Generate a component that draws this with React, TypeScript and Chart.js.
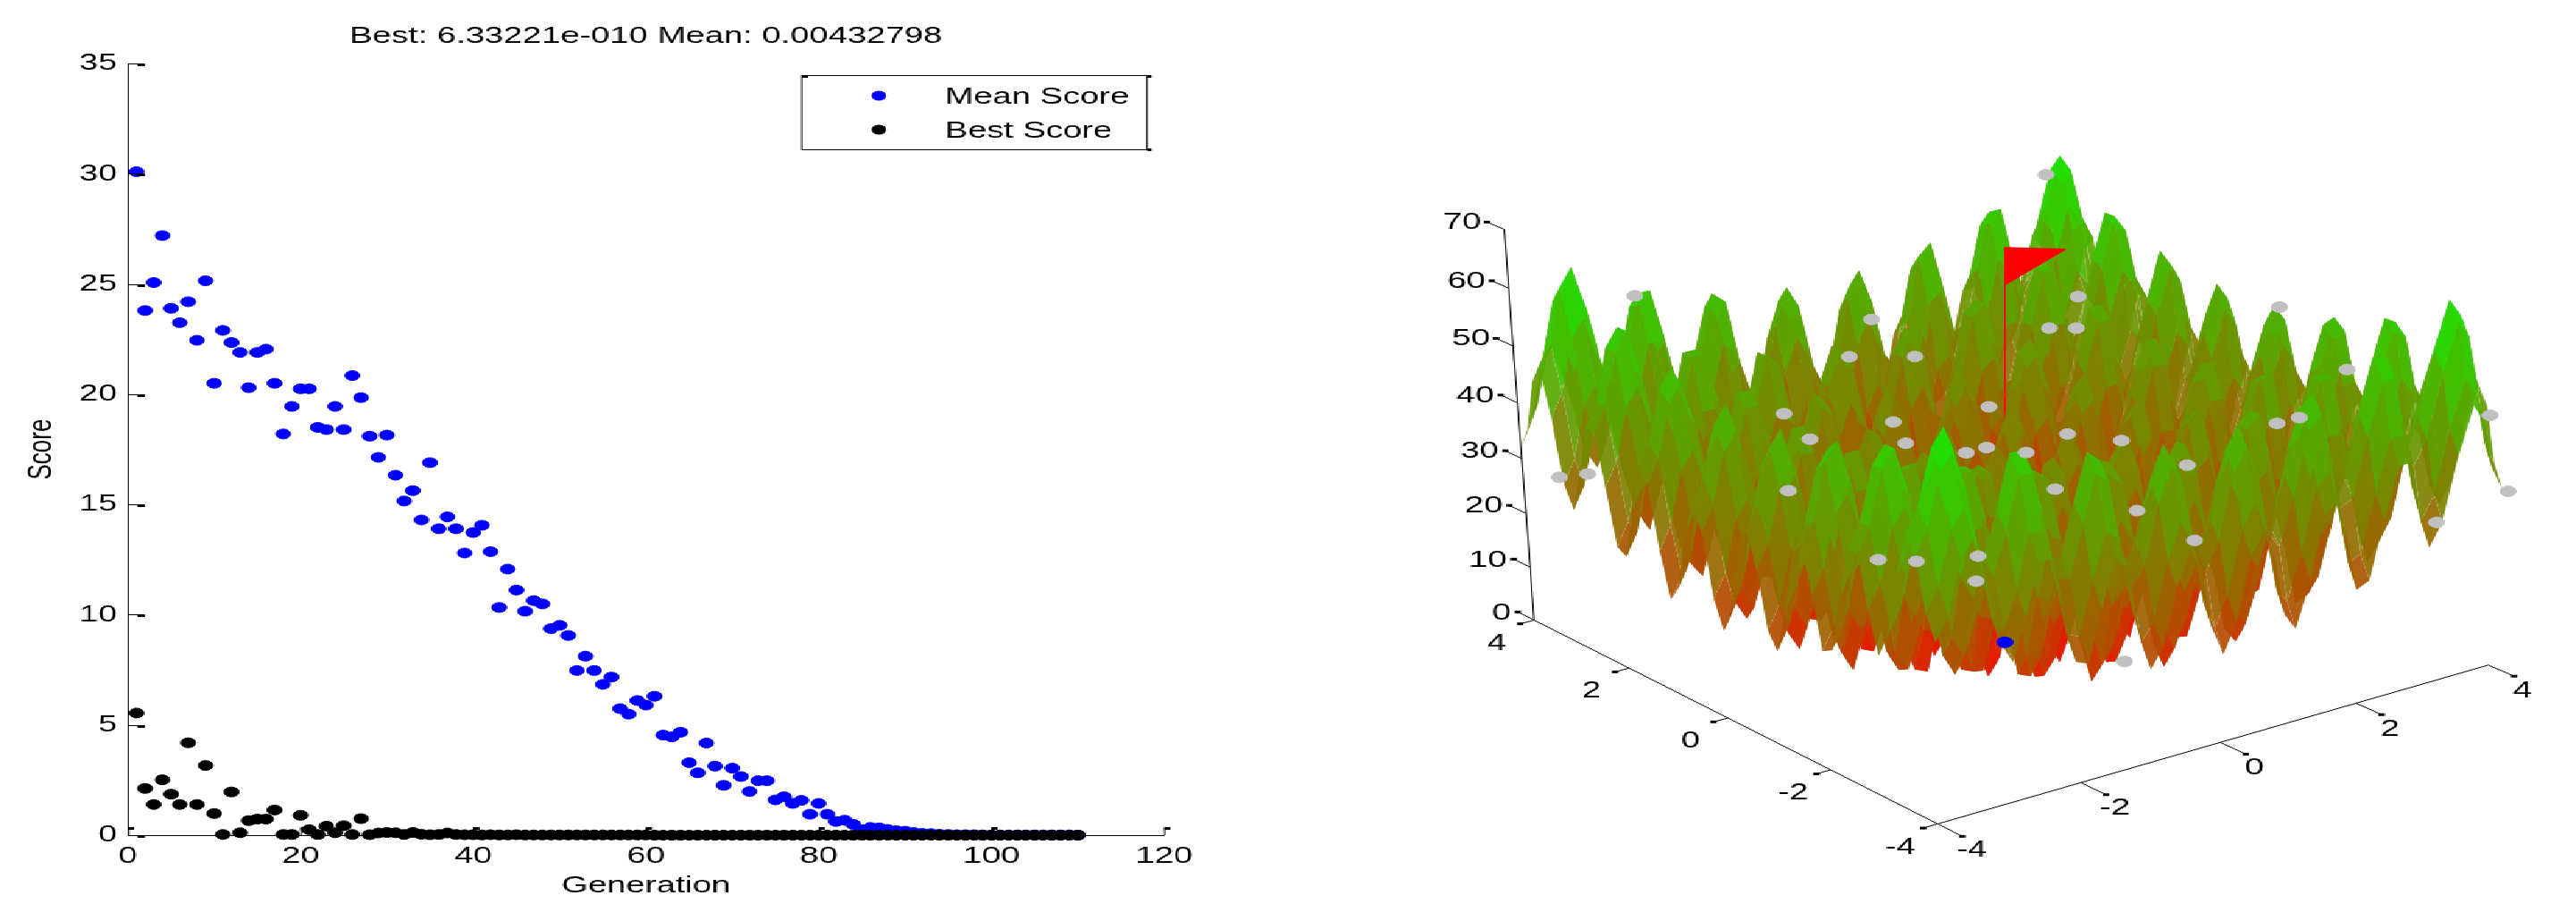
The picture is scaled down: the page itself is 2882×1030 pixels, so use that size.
import { useEffect, useRef } from 'react'
import { Chart, registerables, type ChartConfiguration, type Plugin } from 'chart.js'

Chart.register(...registerables)

// ---- left panel values (generation = index + 1)
const meanScore = [
  30.1, 23.8, 25.07, 27.2, 23.9, 23.25, 24.2, 22.45, 25.15, 20.5,
  22.9, 22.35, 21.9, 20.3, 21.9, 22.05, 20.5, 18.2, 19.45, 20.25,
  20.25, 18.5, 18.4, 19.45, 18.4, 20.85, 19.85, 18.1, 17.14, 18.15,
  16.33, 15.16, 15.63, 14.3, 16.9, 13.9, 14.44, 13.9, 12.8, 13.73,
  14.06, 12.86, 10.33, 12.07, 11.12, 10.16, 10.64, 10.49, 9.37, 9.52,
  9.06, 7.47, 8.12, 7.47, 6.84, 7.17, 5.74, 5.49, 6.11, 5.9,
  6.3, 4.54, 4.46, 4.67, 3.29, 2.83, 4.18, 3.13, 2.26, 3.04,
  2.66, 1.98, 2.47, 2.47, 1.6, 1.74, 1.44, 1.58, 0.95, 1.44,
  0.95, 0.62, 0.68, 0.49, 0.25, 0.35, 0.33, 0.26, 0.2, 0.18,
  0.12, 0.08, 0.07, 0.04, 0.03, 0.02, 0.02, 0.02, 0.01, 0.01,
  0.01, 0.01, 0.01, 0.01, 0.01, 0.01, 0.01, 0.01, 0.01, 0.0043,
]
const bestScore = [
  5.54, 2.12, 1.39, 2.51, 1.86, 1.39, 4.19, 1.39, 3.16, 0.98,
  0.03, 1.96, 0.11, 0.66, 0.73, 0.73, 1.14, 0.03, 0.03, 0.9,
  0.25, 0.03, 0.41, 0.11, 0.43, 0.03, 0.75, 0.02, 0.1, 0.12,
  0.11, 0.03, 0.12, 0.04, 0.02, 0.03, 0.1, 0.03, 0.02, 0.02,
  0.01, 0.02, 0.01, 0.01, 0.02, 0.01, 0.01, 0.01, 0.01, 0.01,
  0.01, 0.01, 0.01, 0.01, 0.01, 0.01, 0.01, 0.01, 0.01, 0.01,
  0, 0, 0, 0, 0, 0, 0, 0, 0, 0,
  0, 0, 0, 0, 0, 0, 0, 0, 0, 0,
  0, 0, 0, 0, 0, 0, 0, 0, 0, 0,
  0, 0, 0, 0, 0, 0, 0, 0, 0, 0,
  0, 0, 0, 0, 0, 0, 0, 0, 0, 0,
]
const legendLabels = ['Mean Score', 'Best Score']
const titleText = 'Best: 6.33221e-010 Mean: 0.00432798'

// ---- right panel values: surface heights on a 47 x 47 grid
const gridAxis = [
  -4, -3.83, -3.65, -3.48, -3.3, -3.13, -2.96, -2.78, -2.61, -2.43, -2.26, -2.09, -1.91, -1.74, -1.57, -1.39, -1.22, -1.04, -0.87, -0.7, -0.52, -0.35, -0.17, 0,
  0.17, 0.35, 0.52, 0.7, 0.87, 1.04, 1.22, 1.39, 1.57, 1.74, 1.91, 2.09, 2.26, 2.43, 2.61, 2.78, 2.96, 3.13, 3.3, 3.48, 3.65, 3.83, 4,
]
const r16 = [32,36,45,48,40,29,25,32,41,41,32,22,21,30,38,36,25,17,20,30,36,32,21,16,21,32,36,30,20,17,25,36,38,30,21,22,32,41,41,32,25,29,40,48,45,36,32]
const r20 = [36,40,49,52,44,33,29,36,45,45,36,26,25,34,42,40,29,21,24,34,40,36,25,20,25,36,40,34,24,21,29,40,42,34,25,26,36,45,45,36,29,33,44,52,49,40,36]
const r29 = [45,49,58,61,53,42,38,45,54,54,45,35,34,43,51,49,38,30,33,43,49,45,34,29,34,45,49,43,33,30,38,49,51,43,34,35,45,54,54,45,38,42,53,61,58,49,45]
const r32 = [48,52,61,64,56,45,41,48,57,57,48,38,37,46,54,52,41,33,36,46,52,48,37,32,37,48,52,46,36,33,41,52,54,46,37,38,48,57,57,48,41,45,56,64,61,52,48]
const r24 = [40,44,53,56,48,37,33,40,49,49,40,30,29,38,46,44,33,25,28,38,44,40,29,24,29,40,44,38,28,25,33,44,46,38,29,30,40,49,49,40,33,37,48,56,53,44,40]
const r13 = [29,33,42,45,37,26,22,29,38,38,29,19,18,27,35,33,22,14,17,27,33,29,18,13,18,29,33,27,17,14,22,33,35,27,18,19,29,38,38,29,22,26,37,45,42,33,29]
const r9 = [25,29,38,41,33,22,18,25,34,34,25,15,14,23,31,29,18,10,13,23,29,25,14,9,14,25,29,23,13,10,18,29,31,23,14,15,25,34,34,25,18,22,33,41,38,29,25]
const r25 = [41,45,54,57,49,38,34,41,50,50,41,31,30,39,47,45,34,26,29,39,45,41,30,25,30,41,45,39,29,26,34,45,47,39,30,31,41,50,50,41,34,38,49,57,54,45,41]
const r6 = [22,26,35,38,30,19,15,22,31,31,22,12,11,20,28,26,15,7,10,20,26,22,11,6,11,22,26,20,10,7,15,26,28,20,11,12,22,31,31,22,15,19,30,38,35,26,22]
const r5 = [21,25,34,37,29,18,14,21,30,30,21,11,10,19,27,25,14,6,9,19,25,21,10,5,10,21,25,19,9,6,14,25,27,19,10,11,21,30,30,21,14,18,29,37,34,25,21]
const r14 = [30,34,43,46,38,27,23,30,39,39,30,20,19,28,36,34,23,15,18,28,34,30,19,14,19,30,34,28,18,15,23,34,36,28,19,20,30,39,39,30,23,27,38,46,43,34,30]
const r22 = [38,42,51,54,46,35,31,38,47,47,38,28,27,36,44,42,31,23,26,36,42,38,27,22,27,38,42,36,26,23,31,42,44,36,27,28,38,47,47,38,31,35,46,54,51,42,38]
const r1 = [17,21,30,33,25,14,10,17,26,26,17,7,6,15,23,21,10,2,5,15,21,17,6,1,6,17,21,15,5,2,10,21,23,15,6,7,17,26,26,17,10,14,25,33,30,21,17]
const r4 = [20,24,33,36,28,17,13,20,29,29,20,10,9,18,26,24,13,5,8,18,24,20,9,4,9,20,24,18,8,5,13,24,26,18,9,10,20,29,29,20,13,17,28,36,33,24,20]
const r0 = [16,20,29,32,24,13,9,16,25,25,16,6,5,14,22,20,9,1,4,14,20,16,5,0,5,16,20,14,4,1,9,20,22,14,5,6,16,25,25,16,9,13,24,32,29,20,16]
const surfaceRows = [
  r16, r20, r29, r32, r24, r13, r9, r16, r25, r25, r16, r6, r5, r14, r22, r20, r9, r1, r4, r14, r20, r16, r5, r0,
  r5, r16, r20, r14, r4, r1, r9, r20, r22, r14, r5, r6, r16, r25, r25, r16, r9, r13, r24, r32, r29, r20, r16,
]

// population markers (x, y, score)
const popX = [-2.44, -0.2, -0.6, 0, -1.8, -0.4, 0.8, -0.95, -0.15, 0.2, 0.5, -3.5, -3.38, -1.1, 3.45, 2.85, 2.5, 2.75, 3.77, 3.6, 3.7, 3.65, 3.82, 4, 2.75, 2.5, 1.35, 1.42, 1.95, 1.95, 3.95, 2.55, -0.8, -0.48, 0.2, 0.11, 0.4]
const popY = [3.78, 2.26, 2.16, 1.7, 1.8, 1.6, 1.35, 2.5, 1.7, 1, 1, 4, 3.57, 2.76, 3.7, 2.3, 2.4, 2.2, -0.27, -1.7, -0.4, -0.85, -3.9, -4.1, 2.35, 1, 1.35, 0.88, 0, -0.9, -3, -0.35, 1.4, 1.08, 0.78, 0.7, -1.75]
const popZ = [55, 50, 45, 45, 40, 35, 35, 30, 30, 30, 30, 25, 27, 20, 60, 45, 40, 40, 50, 45, 30, 33, 45, 32, 20, 25, 25, 20, 18, 30, 22, 12, 12, 12, 12, 8, 3]

const zTicks = [0, 10, 20, 30, 40, 50, 60, 70]
const groundTicks = [-4, -2, 0, 2, 4]
const flagX = [0, 0.86, 0]
const flagZ = [70, 67.3, 63.7]

// the source picture is stretched sideways, so both canvases are too
const STRETCH = 1.47
const PANEL_W = 1441
const CANVAS_W = Math.round(PANEL_W / STRETCH)
const FONT = { family: '"Liberation Sans", Arial, sans-serif', size: 26 }
const FONT_CSS = '26px "Liberation Sans", Arial, sans-serif'

// perspective camera of the 3d axes
const project = (u: number, v: number, z: number) => {
  const w = 1 + 0.0064 * u + 0.0097 * v - 0.000866 * z
  return {
    x: (2244.3 + 90.96 * u - 36.98 * v - 1.943 * z) / w,
    y: (721.15 - 16.28 * u - 20.26 * v - 6.632 * z) / w,
  }
}
const depth = (u: number, v: number, z: number) => 1 + 0.0064 * u + 0.0097 * v - 0.000866 * z

const pts = (arr: number[]) => arr.map((y, i) => ({ x: i + 1, y }))

const leftPlugin: Plugin = {
  id: 'leftExtras',
  afterDraw(chart) {
    const { ctx, scales: { x, y } } = chart
    ctx.save()
    ctx.fillStyle = '#000'
    for (const t of y.ticks) {
      const py = Math.round(y.getPixelForValue(t.value))
      ctx.fillRect(x.left, py, 18 / STRETCH, 1)
      ctx.fillRect(x.left + 11 / STRETCH, py, 8 / STRETCH, 3)
    }
    for (const t of x.ticks) {
      const px = x.getPixelForValue(t.value)
      ctx.fillRect(px, y.bottom - 8, 1, 8)
      ctx.fillRect(px, y.bottom - 9, 7 / STRETCH, 3)
    }
    // legend
    const l = 897 / STRETCH, r = 1283 / STRETCH, top = 84, bottom = 167
    ctx.strokeStyle = '#000'
    ctx.lineWidth = 1
    ctx.strokeRect(l, top + 0.5, r - l, bottom - top)
    ctx.fillRect(r, top, 5 / STRETCH, 3)
    ctx.fillRect(r, bottom - 1, 5 / STRETCH, 3)
    ctx.fillRect(l, top, 7 / STRETCH, 3)
    const rows = [107, 145]
    const colors = ['#0000ff', '#000000']
    ctx.font = FONT_CSS
    ctx.textBaseline = 'middle'
    legendLabels.forEach((label, i) => {
      ctx.fillStyle = colors[i]
      ctx.beginPath()
      ctx.arc(983 / STRETCH, rows[i], 5.5, 0, Math.PI * 2)
      ctx.fill()
      ctx.fillStyle = '#000'
      ctx.fillText(label, 1057 / STRETCH, rows[i] + 2)
    })
    ctx.restore()
  },
}

const leftConfig: ChartConfiguration = {
  type: 'scatter',
  data: {
    datasets: [
      { label: legendLabels[1], data: pts(bestScore), backgroundColor: '#000', borderColor: '#000', pointRadius: 5.5, clip: false },
      { label: legendLabels[0], data: pts(meanScore), backgroundColor: '#0000ff', borderColor: '#0000ff', pointRadius: 5.5, clip: false },
    ],
  },
  options: {
    responsive: false,
    animation: false,
    devicePixelRatio: 1,
    events: [],
    layout: { padding: { left: 0, right: CANVAS_W - 1302 / STRETCH, top: 0, bottom: 0 } },
    plugins: {
      legend: { display: false },
      tooltip: { enabled: false },
      title: {
        display: true, text: titleText, color: '#000', font: { ...FONT, weight: 'normal' },
        fullSize: false, padding: { top: 25, bottom: 15 },
      },
    },
    scales: {
      x: {
        type: 'linear', min: 0, max: 120,
        afterFit: s => { s.height = 96 },
        grid: { display: false, drawTicks: false },
        border: { color: '#000', width: 1 },
        ticks: { stepSize: 20, color: '#000', font: FONT, padding: 8, maxRotation: 0 },
        title: { display: true, text: 'Generation', color: '#000', font: FONT, padding: { top: 0, bottom: 24 } },
      },
      y: {
        type: 'linear', min: 0, max: 35,
        afterFit: s => { s.width = 143 / STRETCH },
        grid: { display: false, drawTicks: false },
        border: { color: '#000', width: 1 },
        ticks: { stepSize: 5, color: '#000', font: FONT, padding: 8 },
        title: { display: true, text: 'Score', color: '#000', font: FONT, padding: { top: 16, bottom: 0 } },
      },
    },
  },
}

// surface facets plus the flag, sorted so the nearest one is drawn last
const buildSurface = () => {
  const marks: { d: number; ds: any }[] = []
  const n = gridAxis.length
  for (let j = 0; j < n - 1; j++) {
    for (let i = 0; i < n - 1; i++) {
      const corners = [[i, j], [i + 1, j], [i + 1, j + 1], [i, j + 1], [i, j]]
      const poly = corners.map(([a, b]) => project(gridAxis[a], gridAxis[b], surfaceRows[b][a]))
      const mean = (surfaceRows[j][i] + surfaceRows[j][i + 1] + surfaceRows[j + 1][i] + surfaceRows[j + 1][i + 1]) / 4
      const t = Math.min(1, mean / 70)
      const d = depth(
        (gridAxis[i] + gridAxis[i + 1]) / 2, (gridAxis[j] + gridAxis[j + 1]) / 2,
        (surfaceRows[j][i] + surfaceRows[j + 1][i + 1]) / 2,
      )
      marks.push({
        d,
        ds: {
          data: poly, showLine: true, fill: 'shape', borderWidth: 0, borderColor: 'rgba(0,0,0,0)', pointRadius: 0,
          backgroundColor: `rgba(${Math.round(255 * (1 - t))},${Math.round(255 * t)},0,0.92)`, clip: false,
        },
      })
    }
  }
  marks.push({
    d: depth(0, 0, 0),
    ds: { data: [project(0, 0, 70), project(0, 0, 0)], showLine: true, borderColor: '#ff0000', borderWidth: 1, pointRadius: 0, clip: false },
  })
  marks.push({
    d: depth(0, 0, 0) + 0.001,
    ds: {
      data: [...flagX.map((u, i) => project(u, 0, flagZ[i])), project(flagX[0], 0, flagZ[0])],
      showLine: true, fill: 'shape', backgroundColor: '#ff0000', borderColor: '#ff0000', borderWidth: 1, pointRadius: 0, clip: false,
    },
  })
  marks.sort((a, b) => a.d - b.d)
  return marks.map(m => m.ds)
}

const population = {
  data: popX.map((u, i) => project(u, popY[i], popZ[i])),
  backgroundColor: '#c0c0c0', borderColor: '#c0c0c0', pointRadius: 6, clip: false,
}
const bestPoint = {
  data: [project(0, 0, 0)],
  backgroundColor: '#0000ff', borderColor: '#0000ff', pointRadius: 6, clip: false,
}

const axesPlugin: Plugin = {
  id: 'axes3d',
  afterDraw(chart) {
    const { ctx, scales: { x, y } } = chart
    const px = (p: { x: number; y: number }) => [x.getPixelForValue(p.x), y.getPixelForValue(p.y)]
    const seg = (a: { x: number; y: number }, b: { x: number; y: number }) => {
      const [x1, y1] = px(a)
      const [x2, y2] = px(b)
      ctx.beginPath()
      ctx.moveTo(x1, y1)
      ctx.lineTo(x2, y2)
      ctx.stroke()
    }
    const dash = (p: { x: number; y: number }) => {
      const [cx, cy] = px(p)
      ctx.fillRect(cx - 3.5 / STRETCH, cy - 1.5, 7 / STRETCH, 3)
    }
    const label = (p: { x: number; y: number }, text: string, dx: number, dy: number, align: CanvasTextAlign) => {
      const [cx, cy] = px(p)
      ctx.textAlign = align
      ctx.fillText(text, cx + dx / STRETCH, cy + dy)
    }
    ctx.save()
    ctx.strokeStyle = '#000'
    ctx.fillStyle = '#000'
    ctx.lineWidth = 1
    ctx.font = FONT_CSS
    ctx.textBaseline = 'middle'
    seg(project(-4, 4, 0), project(-4, 4, 70))
    seg(project(-4, 4, 0), project(-4, -4, 0))
    seg(project(-4, -4, 0), project(4, -4, 0))
    for (const z of zTicks) {
      const base = project(-4, 4, z)
      const end = project(-4, 4.35, z)
      seg(base, end)
      dash(end)
      label(base, String(z), -26, -8, 'right')
    }
    for (const g of groundTicks) {
      const leftBase = project(-4, g, 0)
      const leftEnd = project(-4.2, g, 0)
      seg(leftBase, leftEnd)
      dash(leftEnd)
      label(leftBase, String(g), -42, 26, 'center')
      const rightBase = project(g, -4, 0)
      const rightEnd = project(g, -4.45, 0)
      seg(rightBase, rightEnd)
      dash(rightEnd)
      label(rightBase, String(g), 38, 29, 'center')
    }
    ctx.restore()
  },
}

const rightConfig: ChartConfiguration = {
  type: 'scatter',
  data: { datasets: [population, bestPoint, ...buildSurface()] },
  options: {
    responsive: false,
    animation: false,
    devicePixelRatio: 1,
    events: [],
    layout: { padding: 0 },
    plugins: { legend: { display: false }, tooltip: { enabled: false } },
    scales: {
      x: { type: 'linear', display: false, min: PANEL_W, max: PANEL_W * 2 },
      y: { type: 'linear', display: false, min: 0, max: 1030, reverse: true },
    },
  },
}

function Panel({ config, plugin, left }: { config: ChartConfiguration; plugin: Plugin; left: number }) {
  const ref = useRef<HTMLCanvasElement>(null)

  useEffect(() => {
    if (!ref.current) return
    const chart = new Chart(ref.current, { ...config, plugins: [plugin] })
    return () => chart.destroy()
  }, [config, plugin])

  return (
    <canvas
      ref={ref}
      width={CANVAS_W}
      height={1030}
      style={{
        position: 'absolute', left, top: 0, transform: `scaleX(${PANEL_W / CANVAS_W})`,
        transformOrigin: 'left top', imageRendering: 'pixelated',
      }}
    />
  )
}

export default function App() {
  return (
    <div style={{ position: 'fixed', left: 0, top: 0, width: 2882, height: 1030, overflow: 'hidden', background: '#fff' }}>
      <Panel config={leftConfig} plugin={leftPlugin} left={0} />
      <Panel config={rightConfig} plugin={axesPlugin} left={PANEL_W} />
    </div>
  )
}
